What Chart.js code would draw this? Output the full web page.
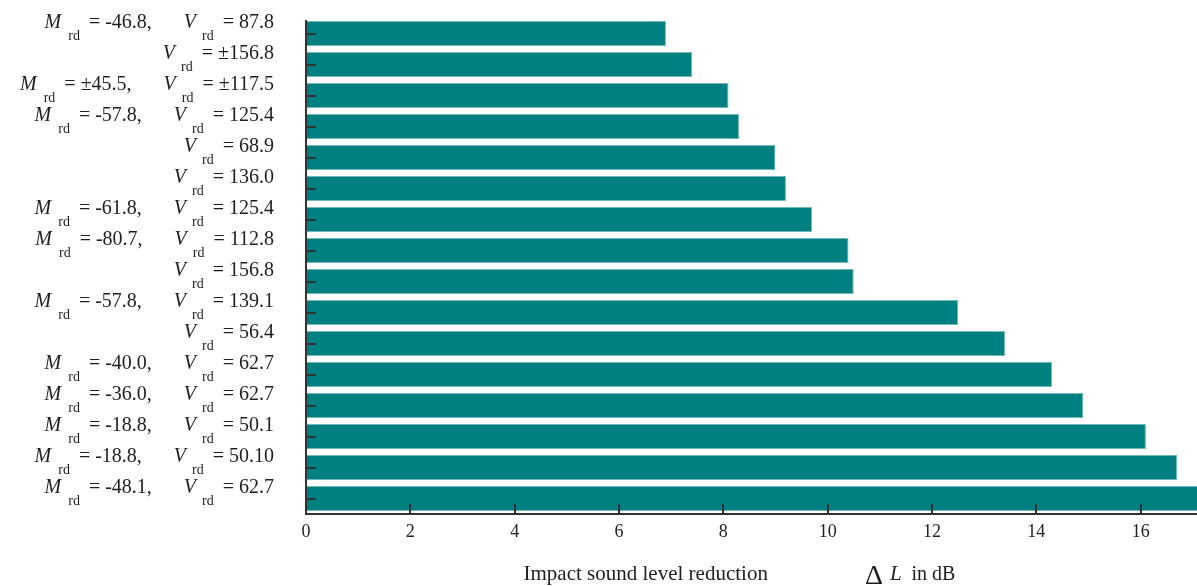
<!DOCTYPE html>
<html>
<head>
<meta charset="utf-8">
<script src="https://cdn.jsdelivr.net/npm/chart.js@4.4.1/dist/chart.umd.min.js"></script>
<style>
html,body{margin:0;padding:0;background:#fff}
#wrap{width:1197px;height:586px;position:relative}
</style>
</head>
<body>
<div id="wrap"><canvas id="grafico"></canvas></div>
<script>
let mrd=['-46.8',null,'±45.5','-57.8',null,null,'-61.8','-80.7',null,'-57.8',null,'-40.0','-36.0','-18.8','-18.8','-48.1']
let vrd=['87.8','±156.8','±117.5','125.4','68.9','136.0','125.4','112.8','156.8','139.1','56.4','62.7','62.7','50.1','50.10','62.7']
let reducao=[6.9,7.4,8.1,8.3,9.0,9.2,9.7,10.4,10.5,12.5,13.4,14.3,14.9,16.1,16.7,17.5]
let ticksX=[0,2,4,6,8,10,12,14,16]
let tituloX='Impact sound level reduction'
let unidadeX='in dB'
let categorias=vrd.map((v,i)=>(mrd[i]?'M rd = '+mrd[i]+', ':'')+'V rd = '+v)

const serif='"Liberation Serif", "Times New Roman", serif'
const corTexto='#1e1e1e'

// rotulo de cada barra: M_rd / V_rd com subscrito, alinhado a direita
function rotulo(ctx,i,py){
    let x=274
    let base=py-6
    let baseSub=py+6
    ctx.textAlign='right'
    ctx.font='20px '+serif
    let txt='= '+vrd[i]
    ctx.fillText(txt,x,base)
    x-=ctx.measureText(txt).width+9
    ctx.font='14px '+serif
    ctx.fillText('rd',x,baseSub)
    x-=ctx.measureText('rd').width+6
    ctx.font='italic 20px '+serif
    ctx.fillText('V',x,base)
    if(!mrd[i]) return
    x-=ctx.measureText('V').width+32
    ctx.font='20px '+serif
    txt='= '+mrd[i]+','
    ctx.fillText(txt,x,base)
    x-=ctx.measureText(txt).width+9
    ctx.font='14px '+serif
    ctx.fillText('rd',x,baseSub)
    x-=ctx.measureText('rd').width+7
    ctx.font='italic 20px '+serif
    ctx.fillText('M',x,base)
}

const eixos={
    id:'eixos',
    afterDraw(chart){
        const ctx=chart.ctx
        const x=chart.scales.x
        const y=chart.scales.y
        const area=chart.chartArea
        ctx.save()
        ctx.strokeStyle='#333'
        ctx.lineWidth=2
        ctx.beginPath()
        ctx.moveTo(area.left,area.top+2)
        ctx.lineTo(area.left,area.bottom)
        ctx.lineTo(chart.width,area.bottom)
        ctx.stroke()
        ctx.beginPath()
        y.ticks.forEach((t,i)=>{
            let py=Math.round(y.getPixelForTick(i))
            ctx.moveTo(area.left,py)
            ctx.lineTo(area.left+10,py)
        })
        x.ticks.forEach((t,i)=>{
            let px=Math.round(x.getPixelForTick(i))
            if(i===0) return
            ctx.moveTo(px,area.bottom)
            ctx.lineTo(px,area.bottom-10)
        })
        ctx.stroke()

        ctx.fillStyle=corTexto
        ctx.textBaseline='alphabetic'
        y.ticks.forEach((t,i)=>rotulo(ctx,i,y.getPixelForTick(i)))

        // titulo do eixo x
        ctx.textAlign='left'
        ctx.font='21px '+serif
        let w1=ctx.measureText(tituloX).width
        ctx.font='28px '+serif
        let wd=ctx.measureText('Δ').width
        ctx.font='italic 21px '+serif
        let wl=ctx.measureText('L').width
        ctx.font='20px '+serif
        let wu=ctx.measureText(unidadeX).width
        let total=w1+97+wd+7+wl+10+wu
        let px=(area.left+chart.width)/2-total/2-12
        let base=580
        ctx.font='21px '+serif
        ctx.fillText(tituloX,px,base)
        px+=w1+97
        ctx.font='28px '+serif
        ctx.fillText('Δ',px,base+4)
        px+=wd+7
        ctx.font='italic 21px '+serif
        ctx.fillText('L',px,base)
        px+=wl+10
        ctx.font='20px '+serif
        ctx.fillText(unidadeX,px,base)
        ctx.restore()
    }
}

const ctx=document.getElementById('grafico')
let grafico=new Chart(ctx,{
    type:'bar',
    data:{
        labels:categorias,
        datasets:[{
            label:'ΔL',
            data:reducao,
            backgroundColor:'#008080',
            borderColor:'#74b9b9',
            borderWidth:1,
            barPercentage:0.8,
            categoryPercentage:1
        }]
    },
    options:{
        indexAxis:'y',
        responsive:true,
        maintainAspectRatio:false,
        animation:false,
        layout:{padding:{left:0,top:18,right:0,bottom:42}},
        plugins:{legend:{display:false},tooltip:{enabled:false}},
        scales:{
            x:{
                type:'linear',
                min:0,
                max:17.08,
                grid:{display:false},
                border:{display:false},
                afterBuildTicks:(s)=>{s.ticks=ticksX.map(v=>({value:v}))},
                afterFit:(s)=>{s.height=30},
                ticks:{
                    padding:-1,
                    color:corTexto,
                    font:{family:serif,size:18},
                    maxRotation:0
                }
            },
            y:{
                grid:{display:false},
                border:{display:false},
                ticks:{display:false},
                afterFit:(s)=>{s.width=306}
            }
        }
    },
    plugins:[eixos]
})
</script>
</body>
</html>
